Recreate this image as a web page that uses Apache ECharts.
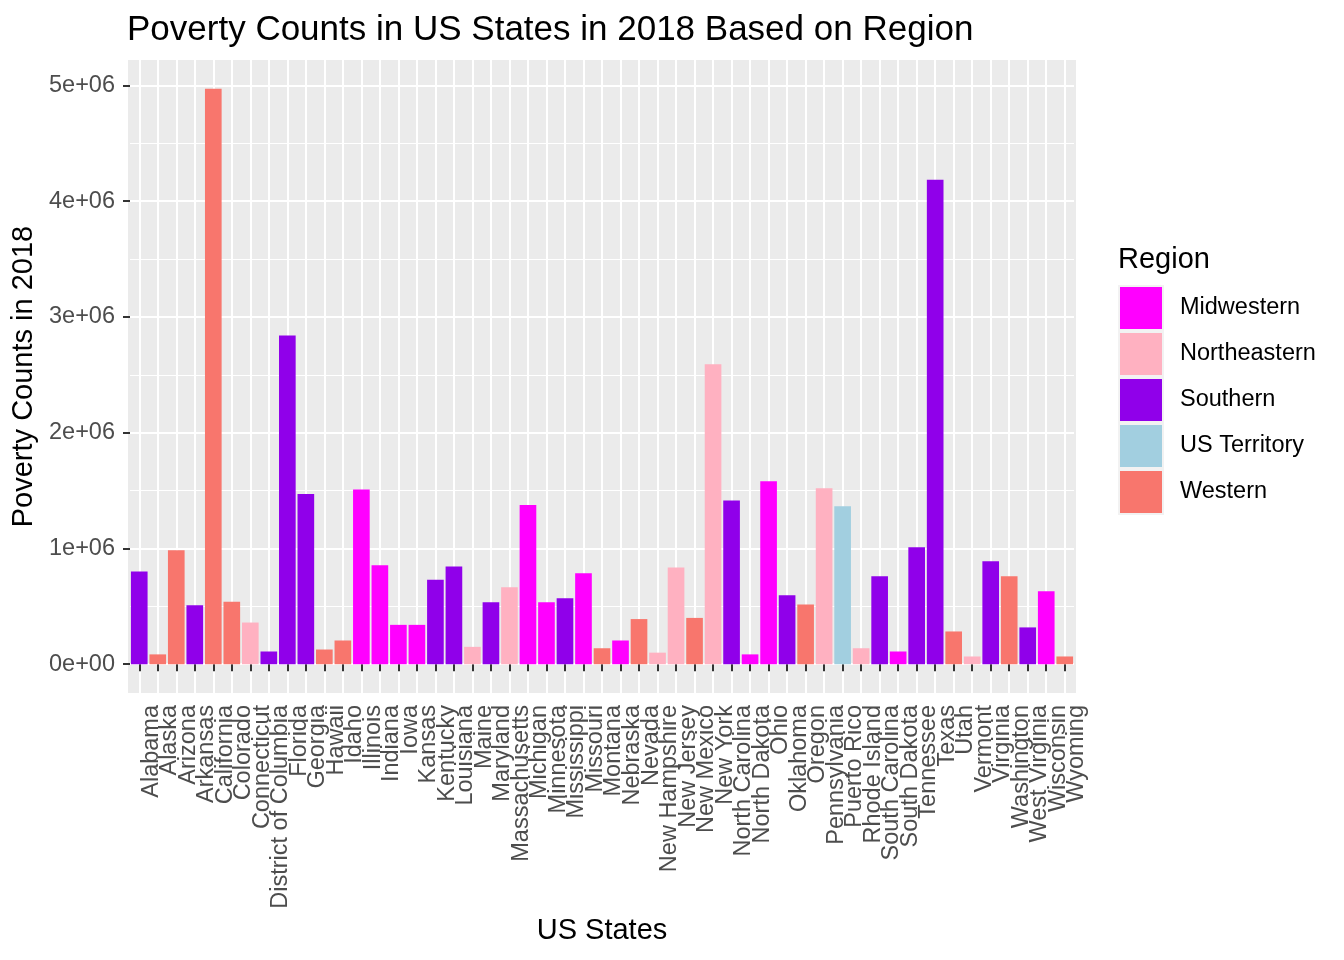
<!DOCTYPE html>
<html>
<head>
<meta charset="utf-8">
<script src="https://cdn.jsdelivr.net/npm/echarts@6/dist/echarts.min.js"></script>
<style>
  html, body { margin: 0; padding: 0; background: #fff; }
  #chart { width: 1344px; height: 960px; }
</style>
</head>
<body>
<div id="chart"></div>
<script>
// ggplot-style grey theme colours
const PANEL = "#EBEBEB";
const TICK_TXT = "#4D4D4D";
const TICK_LINE = "#333333";
const FONT = '"Liberation Sans", Arial, Helvetica, sans-serif';

const states = [
  "Alabama", "Alaska", "Arizona", "Arkansas", "California", "Colorado", "Connecticut",
  "District of Columbia", "Florida", "Georgia", "Hawaii", "Idaho", "Illinois", "Indiana",
  "Iowa", "Kansas", "Kentucky", "Louisiana", "Maine", "Maryland", "Massachusetts",
  "Michigan", "Minnesota", "Mississippi", "Missouri", "Montana", "Nebraska", "Nevada",
  "New Hampshire", "New Jersey", "New Mexico", "New York", "North Carolina", "North Dakota",
  "Ohio", "Oklahoma", "Oregon", "Pennsylvania", "Puerto Rico", "Rhode Island",
  "South Carolina", "South Dakota", "Tennessee", "Texas", "Utah", "Vermont", "Virginia",
  "Washington", "West Virginia", "Wisconsin", "Wyoming",
];

const povertyCounts = [
  800000, 85000, 985000, 510000, 4970000, 540000, 360000,
  110000, 2840000, 1470000, 127000, 205000, 1510000, 855000,
  340000, 340000, 730000, 845000, 150000, 535000, 665000,
  1375000, 535000, 570000, 785000, 138000, 205000, 390000,
  100000, 835000, 400000, 2590000, 1415000, 85000,
  1580000, 595000, 515000, 1520000, 1365000, 138000,
  760000, 110000, 1010000, 4185000, 283000, 67000, 890000,
  760000, 318000, 630000, 67000,
];

const stateRegion = [
  "Southern", "Western", "Western", "Southern", "Western", "Western", "Northeastern",
  "Southern", "Southern", "Southern", "Western", "Western", "Midwestern", "Midwestern",
  "Midwestern", "Midwestern", "Southern", "Southern", "Northeastern", "Southern", "Northeastern",
  "Midwestern", "Midwestern", "Southern", "Midwestern", "Western", "Midwestern", "Western",
  "Northeastern", "Northeastern", "Western", "Northeastern", "Southern", "Midwestern",
  "Midwestern", "Southern", "Western", "Northeastern", "US Territory", "Northeastern",
  "Southern", "Midwestern", "Southern", "Southern", "Western", "Northeastern", "Southern",
  "Western", "Southern", "Midwestern", "Western",
];

const regions = ["Midwestern", "Northeastern", "Southern", "US Territory", "Western"];
const regionColors = ["#FF00FF", "#FFB1C1", "#9000EA", "#A2CFE0", "#F8766D"];

const yMajor = [0, 1000000, 2000000, 3000000, 4000000, 5000000];
const yMinor = [500000, 1500000, 2500000, 3500000, 4500000];

// ggplot adds 5% of the data range on each side of a continuous axis
const maxVal = Math.max(...povertyCounts);
const yMin = -0.05 * maxVal;
const yMax = 1.05 * maxVal;

const sciLabel = (v) => (v === 0 ? "0e+00" : v.toExponential().replace(/e\+(\d)$/, "e+0$1"));

const series = regions.map((r, k) => ({
  name: r,
  type: "bar",
  stack: "all",
  barWidth: "90%",
  itemStyle: { color: regionColors[k] },
  data: povertyCounts.map((v, i) => (stateRegion[i] === r ? v : "-")),
}));

const chart = echarts.init(document.getElementById("chart"), null, { renderer: "canvas" });

chart.setOption({
  animation: false,
  textStyle: { fontFamily: FONT },
  title: [
    {
      text: "Poverty Counts in US States in 2018 Based on Region",
      left: 122, top: 8,
      textStyle: { fontFamily: FONT, fontSize: 35, fontWeight: "normal", color: "#000" },
    },
    {
      text: "Region",
      left: 1113, top: 240,
      textStyle: { fontFamily: FONT, fontSize: 29, fontWeight: "normal", color: "#000" },
    },
  ],
  graphic: [
    { type: "rect", z: -10, silent: true, shape: { x: 128, y: 60, width: 948, height: 633 }, style: { fill: PANEL } },
  ],
  grid: { left: 130, right: 270, top: 60, bottom: 267, show: true, backgroundColor: PANEL, borderWidth: 0 },
  legend: {
    orient: "vertical",
    left: 1118, top: 285,
    padding: 0,
    itemWidth: 44, itemHeight: 44, itemGap: 0,
    icon: "rect",
    itemStyle: { borderColor: "#F2F2F2", borderWidth: 2 },
    textStyle: { fontFamily: FONT, fontSize: 23.5, color: "#000", padding: [0, 0, 0, 12] },
    data: regions,
  },
  xAxis: [
    {
      type: "category",
      data: states,
      name: "US States",
      nameLocation: "middle",
      nameGap: 222,
      nameTextStyle: { fontFamily: FONT, fontSize: 29, color: "#000" },
      axisLine: { show: false },
      axisTick: { show: true, alignWithLabel: true, interval: 0, length: 7, lineStyle: { color: TICK_LINE, width: 2 } },
      splitLine: { show: true, alignWithLabel: true, interval: 0, lineStyle: { color: "#fff", width: 2 } },
      axisLabel: {
        interval: 0, rotate: 90, margin: 12, verticalAlign: "top",
        fontFamily: FONT, fontSize: 23.5, color: TICK_TXT,
      },
    },
  ],
  yAxis: [
    {
      type: "value",
      min: yMin, max: yMax,
      name: "Poverty Counts in 2018",
      nameLocation: "middle",
      nameGap: 86,
      nameTextStyle: { fontFamily: FONT, fontSize: 29, color: "#000" },
      axisLine: { show: false },
      axisTick: { show: true, customValues: yMajor, length: 7, lineStyle: { color: TICK_LINE, width: 2 } },
      axisLabel: { customValues: yMajor, formatter: sciLabel, margin: 15, fontFamily: FONT, fontSize: 23.5, color: TICK_TXT },
      splitLine: { show: true, lineStyle: { color: "#fff", width: 2 } },
    },
    {
      type: "value",
      min: yMin, max: yMax,
      position: "left",
      axisLine: { show: false },
      axisTick: { show: false, customValues: yMinor },
      axisLabel: { show: false, customValues: yMinor },
      splitLine: { show: true, lineStyle: { color: "#fff", width: 1 } },
    },
  ],
  series,
});
</script>
</body>
</html>
